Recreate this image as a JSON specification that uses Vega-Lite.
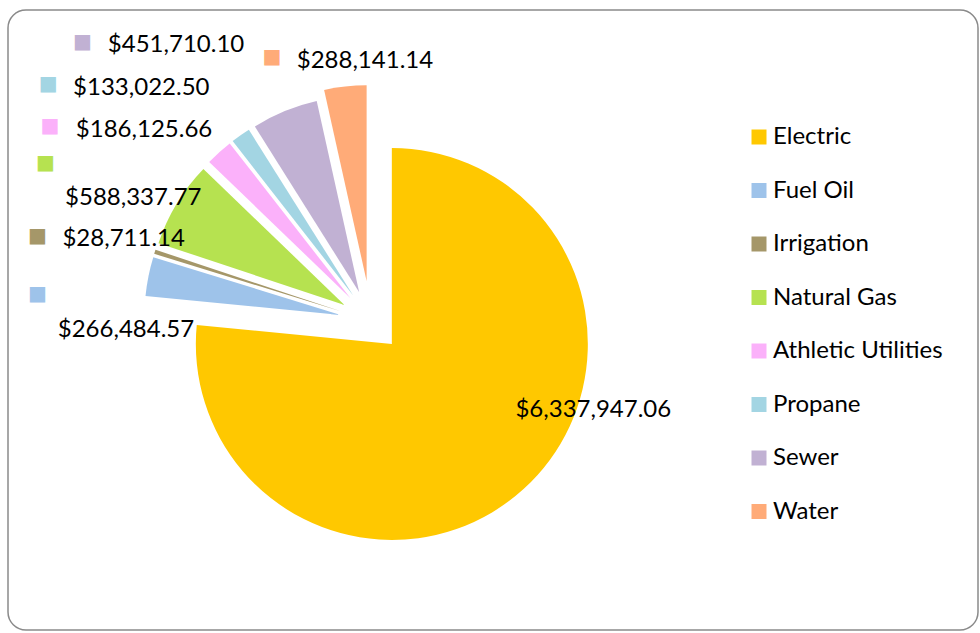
{
  "$schema": "https://vega.github.io/schema/vega-lite/v6.json",
  "width": 970,
  "height": 620,
  "autosize": {"type": "none"},
  "padding": {"left": 8, "top": 10, "right": 2, "bottom": 3},
  "background": "white",
  "config": {
    "view": {"stroke": null},
    "font": "Lato"
  },
  "data": {
    "values": [
      {"category": "Electric", "amount": 6337947.06, "rank": 1},
      {"category": "Fuel Oil", "amount": 266484.57, "rank": 2},
      {"category": "Irrigation", "amount": 28711.14, "rank": 3},
      {"category": "Natural Gas", "amount": 588337.77, "rank": 4},
      {"category": "Athletic Utilities", "amount": 186125.66, "rank": 5},
      {"category": "Propane", "amount": 133022.50, "rank": 6},
      {"category": "Sewer", "amount": 451710.10, "rank": 7},
      {"category": "Water", "amount": 288141.14, "rank": 8}
    ]
  },
  "layer": [
    {
      "data": {"values": [{"frame": "chart area"}]},
      "mark": {
        "type": "rect",
        "x": 0,
        "y": 0,
        "x2": "width",
        "y2": "height",
        "cornerRadius": 18,
        "fill": "white",
        "stroke": "#8a8a8a",
        "strokeWidth": 1.5
      },
      "encoding": {}
    },
    {
      "mark": {
        "type": "arc",
        "radius": 196,
        "x": {"expr": "363 + (datum.category === 'Water' ? 40 : 31) * sin(scale('theta', (datum.amount_start + datum.amount_end) / 2))"},
        "y": {"expr": "311 - (datum.category === 'Water' ? 40 : 31) * cos(scale('theta', (datum.amount_start + datum.amount_end) / 2))"}
      },
      "encoding": {
        "theta": {"field": "amount", "type": "quantitative", "stack": true},
        "order": {"field": "rank", "type": "quantitative"},
        "color": {
          "field": "category",
          "type": "nominal",
          "scale": {
            "domain": ["Electric", "Fuel Oil", "Irrigation", "Natural Gas", "Athletic Utilities", "Propane", "Sewer", "Water"],
            "range": ["#FFC800", "#9EC3EA", "#A59769", "#B6E250", "#FBB1FA", "#A3D5E3", "#C1B1D3", "#FFAB78"]
          },
          "legend": {
            "title": null,
            "orient": "none",
            "legendX": 739,
            "legendY": 115,
            "padding": 0,
            "symbolType": "square",
            "symbolSize": 225,
            "symbolStrokeWidth": 0,
            "labelFont": "Lato",
            "labelFontSize": 24,
            "labelColor": "#000000",
            "labelOffset": 2,
            "rowPadding": 29.5,
            "labelLimit": 300
          }
        }
      }
    },
    {
      "mark": {
        "type": "text",
        "x": 363,
        "y": 311,
        "radius": {"expr": "datum.category === 'Electric' ? 150 : 270"},
        "dx": {"expr": "datum.category==='Electric'?121.5:datum.category==='Fuel Oil'?19.7:datum.category==='Irrigation'?9.8:datum.category==='Natural Gas'?-6.7:datum.category==='Athletic Utilities'?-46.3:datum.category==='Propane'?-74.6:datum.category==='Sewer'?-92.3:23.4"},
        "dy": {"expr": "datum.category==='Electric'?-15.4:datum.category==='Fuel Oil'?68.8:datum.category==='Irrigation'?7.4:datum.category==='Natural Gas'?23.7:datum.category==='Athletic Utilities'?16.9:datum.category==='Propane'?-5:datum.category==='Sewer'?-19:15.7"},
        "font": "Lato",
        "fontSize": 24,
        "align": "center",
        "baseline": "alphabetic",
        "color": "#000000"
      },
      "encoding": {
        "theta": {"field": "amount", "type": "quantitative", "stack": true},
        "order": {"field": "rank", "type": "quantitative"},
        "text": {"field": "amount", "type": "quantitative", "format": "$,.2f"}
      }
    },
    {
      "mark": {
        "type": "text",
        "x": 363,
        "y": 311,
        "radius": 270,
        "dx": {"expr": "datum.category==='Electric'?0:datum.category==='Fuel Oil'?-68.8:datum.category==='Irrigation'?-76.4:datum.category==='Natural Gas'?-94.5:datum.category==='Athletic Utilities'?-140.3:datum.category==='Propane'?-167.6:datum.category==='Sewer'?-185.8:-69.6"},
        "dy": {"expr": "datum.category==='Electric'?0:datum.category==='Fuel Oil'?26.1:datum.category==='Irrigation'?-3.1:datum.category==='Natural Gas'?-18:datum.category==='Athletic Utilities'?5.6:datum.category==='Propane'?-16.2:datum.category==='Sewer'?-29.3:4.4"},
        "font": "DejaVu Sans",
        "fontSize": 20,
        "align": "center",
        "baseline": "middle"
      },
      "encoding": {
        "theta": {"field": "amount", "type": "quantitative", "stack": true},
        "order": {"field": "rank", "type": "quantitative"},
        "text": {"value": "■"},
        "color": {"field": "category", "type": "nominal", "legend": null},
        "opacity": {"condition": {"test": "datum.category === 'Electric'", "value": 0}, "value": 1}
      }
    }
  ]
}
